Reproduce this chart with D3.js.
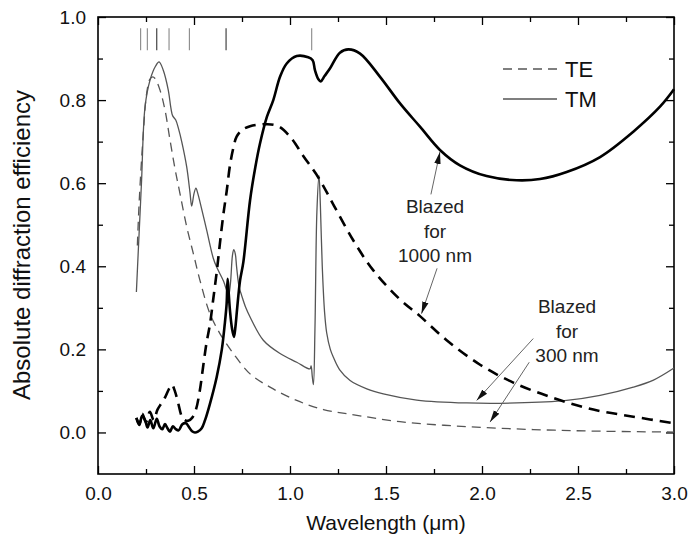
<!DOCTYPE html>
<html>
<head>
<meta charset="utf-8">
<script src="https://cdn.jsdelivr.net/npm/d3@7"></script>
<style>
  body { margin: 0; background: #fff; }
  svg { display: block; }
  text { font-family: "Liberation Sans", Arial, sans-serif; }
</style>
</head>
<body>
<svg id="chart" width="688" height="544"></svg>
<script>
// Wavelength (µm) and absolute efficiency for each grating / polarisation
const wlTM1000 = [0.200,0.215,0.230,0.245,0.258,0.272,0.288,0.306,0.320,0.335,0.349,0.362,0.375,0.390,0.405,0.420,0.440,0.458,0.475,0.490,0.505,0.520,0.540,0.557,0.583,0.618,0.645,0.660,0.670,0.675,0.680,0.688,0.698,0.708,0.716,0.725,0.740,0.757,0.792,0.820,0.844,0.880,0.913,0.948,0.983,1.035,1.095,1.118,1.130,1.148,1.160,1.180,1.208,1.260,1.304,1.365,1.469,1.573,1.677,1.781,1.885,2.024,2.180,2.302,2.441,2.615,2.788,2.927,3.000];
const effTM1000 = [0.035,0.018,0.040,0.030,0.012,0.030,0.010,0.033,0.015,0.008,0.020,0.010,0.002,0.015,0.008,0.005,0.020,0.022,0.012,0.003,0.000,0.002,0.010,0.029,0.069,0.133,0.200,0.260,0.310,0.370,0.340,0.290,0.250,0.230,0.255,0.300,0.366,0.410,0.559,0.640,0.696,0.760,0.800,0.856,0.888,0.906,0.903,0.896,0.872,0.850,0.845,0.858,0.876,0.914,0.922,0.912,0.856,0.792,0.736,0.680,0.643,0.617,0.607,0.610,0.627,0.663,0.724,0.784,0.826];

const wlTE1000 = [0.200,0.215,0.230,0.250,0.270,0.290,0.310,0.330,0.350,0.370,0.385,0.400,0.418,0.435,0.450,0.470,0.490,0.510,0.530,0.548,0.565,0.583,0.600,0.618,0.635,0.653,0.670,0.688,0.705,0.722,0.750,0.792,0.840,0.878,0.939,1.000,1.070,1.150,1.230,1.330,1.434,1.573,1.677,1.816,1.990,2.163,2.372,2.580,2.788,3.000];
const effTE1000 = [0.035,0.020,0.045,0.025,0.050,0.030,0.055,0.070,0.085,0.105,0.115,0.100,0.070,0.040,0.030,0.028,0.035,0.055,0.100,0.160,0.215,0.260,0.320,0.385,0.455,0.525,0.580,0.645,0.685,0.712,0.728,0.737,0.741,0.742,0.737,0.712,0.665,0.612,0.545,0.462,0.390,0.320,0.280,0.222,0.163,0.120,0.083,0.055,0.038,0.022];

const wlTM300 = [0.200,0.210,0.219,0.227,0.245,0.271,0.300,0.318,0.340,0.366,0.380,0.389,0.405,0.420,0.436,0.462,0.479,0.488,0.500,0.510,0.520,0.531,0.566,0.600,0.618,0.653,0.668,0.680,0.690,0.700,0.707,0.715,0.722,0.735,0.748,0.770,0.792,0.861,0.948,1.035,1.104,1.110,1.116,1.122,1.130,1.140,1.151,1.158,1.168,1.180,1.191,1.210,1.226,1.260,1.313,1.400,1.486,1.660,1.920,2.180,2.441,2.615,2.788,2.893,3.000];
const effTM300 = [0.338,0.439,0.527,0.607,0.784,0.848,0.882,0.892,0.872,0.824,0.780,0.762,0.752,0.730,0.700,0.639,0.578,0.545,0.575,0.588,0.575,0.555,0.487,0.420,0.398,0.365,0.345,0.330,0.360,0.425,0.440,0.430,0.398,0.350,0.330,0.300,0.278,0.222,0.190,0.169,0.153,0.160,0.135,0.115,0.250,0.530,0.618,0.550,0.400,0.290,0.240,0.200,0.181,0.150,0.125,0.105,0.093,0.078,0.071,0.071,0.077,0.089,0.109,0.126,0.155];

const wlTE300 = [0.205,0.215,0.236,0.253,0.270,0.285,0.297,0.323,0.349,0.375,0.401,0.427,0.462,0.497,0.531,0.583,0.635,0.705,0.792,0.896,1.035,1.174,1.313,1.573,1.920,2.267,2.615,3.000];
const effTE300 = [0.450,0.560,0.720,0.815,0.850,0.856,0.852,0.824,0.776,0.704,0.635,0.575,0.495,0.430,0.366,0.286,0.238,0.190,0.141,0.109,0.077,0.055,0.044,0.026,0.014,0.007,0.003,0.001];

// Short vertical markers near the top of the frame
const markerWl = [0.222,0.257,0.306,0.370,0.476,0.667,1.113];
const markerDark = [false,false,true,false,false,true,false];

// Tick values and labels
const xMajor = [0,0.5,1.0,1.5,2.0,2.5,3.0];
const xMinor = [0.25,0.75,1.25,1.75,2.25,2.75];
const yMajor = [0,0.2,0.4,0.6,0.8,1.0];
const yMinor = [0.1,0.3,0.5,0.7,0.9];

// Annotations: label lines and arrows (from -> to, in data units)
const note1000Lines = ["Blazed","for","1000 nm"];
const note300Lines = ["Blazed","for","300 nm"];
const arrows = [
  {from:[1.734,0.573], to:[1.781,0.675]},
  {from:[1.766,0.395], to:[1.685,0.286]},
  {from:[2.267,0.226], to:[1.972,0.077]},
  {from:[2.246,0.169], to:[2.042,0.025]}
];

const svg = d3.select("#chart");
const x = d3.scaleLinear().domain([0,3]).range([98,674]);
const y = d3.scaleLinear().domain([-0.1,1.0]).range([474,17]);

const defs = svg.append("defs");
defs.append("marker")
  .attr("id","head")
  .attr("viewBox","0 -5 12 10")
  .attr("refX",12).attr("refY",0)
  .attr("markerWidth",12).attr("markerHeight",10)
  .attr("markerUnits","userSpaceOnUse")
  .attr("orient","auto")
  .append("path").attr("d","M0,-3.2L12,0L0,3.2Z").attr("fill","#111");

const fmt = d3.format(".1f");

function styleAxis(g){
  g.select(".domain").remove();
  g.selectAll("line").attr("stroke","#000").attr("stroke-width",1.3);
  g.selectAll("text").attr("fill","#111").style("font-size","19px");
}

// bottom
svg.append("g").attr("transform",`translate(0,${y.range()[0]})`)
  .call(d3.axisBottom(x).tickValues(xMajor).tickFormat(fmt).tickSize(-8).tickPadding(13))
  .call(styleAxis);
svg.append("g").attr("transform",`translate(0,${y.range()[0]})`)
  .call(d3.axisBottom(x).tickValues(xMinor).tickFormat("").tickSize(-5))
  .call(styleAxis);
// top
svg.append("g").attr("transform",`translate(0,${y.range()[1]})`)
  .call(d3.axisTop(x).tickValues(xMajor).tickFormat("").tickSize(-8))
  .call(styleAxis);
svg.append("g").attr("transform",`translate(0,${y.range()[1]})`)
  .call(d3.axisTop(x).tickValues(xMinor).tickFormat("").tickSize(-5))
  .call(styleAxis);
// left
svg.append("g").attr("transform",`translate(${x.range()[0]},0)`)
  .call(d3.axisLeft(y).tickValues(yMajor).tickFormat(fmt).tickSize(-8).tickPadding(12))
  .call(styleAxis);
svg.append("g").attr("transform",`translate(${x.range()[0]},0)`)
  .call(d3.axisLeft(y).tickValues(yMinor).tickFormat("").tickSize(-5))
  .call(styleAxis);
// right
svg.append("g").attr("transform",`translate(${x.range()[1]},0)`)
  .call(d3.axisRight(y).tickValues(yMajor).tickFormat("").tickSize(-8))
  .call(styleAxis);
svg.append("g").attr("transform",`translate(${x.range()[1]},0)`)
  .call(d3.axisRight(y).tickValues(yMinor).tickFormat("").tickSize(-5))
  .call(styleAxis);

// frame
svg.append("rect")
  .attr("x",x.range()[0]).attr("y",y.range()[1])
  .attr("width",x.range()[1]-x.range()[0]).attr("height",y.range()[0]-y.range()[1])
  .attr("fill","none").attr("stroke","#000").attr("stroke-width",1.6);

// markers
svg.append("g").selectAll("line").data(markerWl).join("line")
  .attr("x1",d=>x(d)).attr("x2",d=>x(d))
  .attr("y1",y(0.973)).attr("y2",y(0.92))
  .attr("stroke",(d,i)=>markerDark[i]?"#333":"#888")
  .attr("stroke-width",1.1);

const line = d3.line().x(d=>x(d[0])).y(d=>y(d[1])).curve(d3.curveCatmullRom.alpha(0.5));
const zipped = (a,b)=>a.map((v,i)=>[v,b[i]]);

const series = [
  {wl:wlTE300, eff:effTE300, color:"#555", width:1.3, dash:"9,6"},
  {wl:wlTM300, eff:effTM300, color:"#555", width:1.3, dash:null},
  {wl:wlTE1000, eff:effTE1000, color:"#000", width:2.6, dash:"11,7"},
  {wl:wlTM1000, eff:effTM1000, color:"#000", width:2.6, dash:null}
];
svg.append("g").selectAll("path").data(series).join("path")
  .attr("d",s=>line(zipped(s.wl,s.eff)))
  .attr("fill","none")
  .attr("stroke",s=>s.color)
  .attr("stroke-width",s=>s.width)
  .attr("stroke-dasharray",s=>s.dash)
  .attr("stroke-linejoin","round");

// legend
const legend = svg.append("g");
[{label:"TE",dash:"9,6",ly:69},{label:"TM",dash:null,ly:99}].forEach(d=>{
  legend.append("line").attr("x1",503).attr("x2",557).attr("y1",d.ly).attr("y2",d.ly)
    .attr("stroke","#555").attr("stroke-width",1.3).attr("stroke-dasharray",d.dash);
  legend.append("text").attr("x",565).attr("y",d.ly+8).text(d.label)
    .style("font-size","22px").attr("fill","#111");
});

// annotation arrows
svg.append("g").selectAll("line").data(arrows).join("line")
  .attr("x1",d=>x(d.from[0])).attr("y1",d=>y(d.from[1]))
  .attr("x2",d=>x(d.to[0])).attr("y2",d=>y(d.to[1]))
  .attr("stroke","#666").attr("stroke-width",1)
  .attr("marker-end","url(#head)");

function noteBlock(lines, cx, topBaseline){
  svg.append("g").selectAll("text").data(lines).join("text")
    .attr("x",cx).attr("y",(d,i)=>topBaseline+i*24.5)
    .attr("text-anchor","middle").attr("fill","#222")
    .style("font-size","19px").text(d=>d);
}
noteBlock(note1000Lines, 435, 213);
noteBlock(note300Lines, 567, 313);

// axis titles
svg.append("text").attr("x",(x.range()[0]+x.range()[1])/2).attr("y",530)
  .attr("text-anchor","middle").style("font-size","21px").attr("fill","#111")
  .text("Wavelength (\u03bcm)");
svg.append("text").attr("transform","translate(30,245) rotate(-90)")
  .attr("text-anchor","middle").style("font-size","24px").attr("fill","#111")
  .text("Absolute diffraction efficiency");
</script>
</body>
</html>
